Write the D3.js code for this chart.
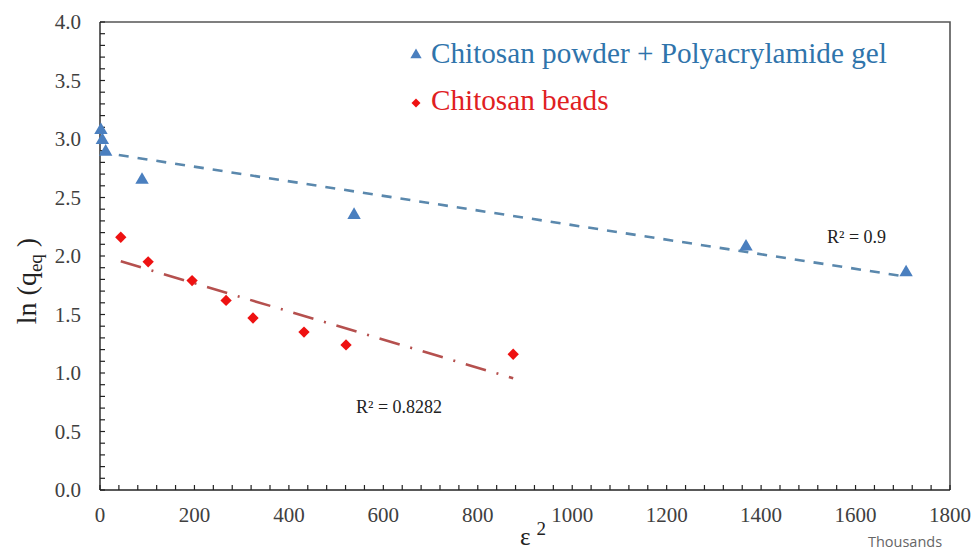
<!DOCTYPE html>
<html><head><meta charset="utf-8">
<script src="https://cdn.jsdelivr.net/npm/d3@7"></script>
<style>
html,body{margin:0;padding:0;background:#fff;}
svg{display:block;}
</style>
</head><body>
<script>
// ---- data (x in thousands) ----
const powderX = [2, 5, 12, 89, 538, 1368, 1707];
const powderY = [3.075, 2.99, 2.89, 2.65, 2.35, 2.08, 1.86];
const beadsX = [44, 102, 195, 267, 324, 432, 521, 875];
const beadsY = [2.16, 1.95, 1.79, 1.62, 1.47, 1.35, 1.24, 1.16];
const seriesNames = ["Chitosan powder + Polyacrylamide gel", "Chitosan beads"];
const r2Labels = ["R\u00B2 = 0.9", "R\u00B2 = 0.8282"];
const xTicks = [0, 200, 400, 600, 800, 1000, 1200, 1400, 1600, 1800];
const yTicks = [0.0, 0.5, 1.0, 1.5, 2.0, 2.5, 3.0, 3.5, 4.0];

const W = 974, H = 553;
const m = {left: 100, right: 24, top: 22, bottom: 63};
const svg = d3.select("body").append("svg").attr("width", W).attr("height", H);

const x = d3.scaleLinear().domain([0, 1800]).range([m.left, W - m.right]);
const y = d3.scaleLinear().domain([0, 4]).range([H - m.bottom, m.top]);

// frame top/right
svg.append("path")
  .attr("d", `M${x(0)},${y(4)}H${x(1800)}V${y(0)}`)
  .attr("fill", "none").attr("stroke", "#555").attr("stroke-width", 1.6);

const serif = "Liberation Serif, Times New Roman, serif";
const yMinor = d3.range(0, 4.0001, 0.1);
const xMinor = d3.range(0, 1800.001, 40);

const gy = svg.append("g").attr("transform", `translate(${x(0)},0)`);
gy.append("line").attr("y1", y(0)).attr("y2", y(4)).attr("stroke", "#222").attr("stroke-width", 1.4);
gy.selectAll("line.mt").data(yMinor).enter().append("line").attr("class","mt")
  .attr("x1", 0).attr("x2", 5).attr("y1", d => y(d)).attr("y2", d => y(d))
  .attr("stroke", "#222").attr("stroke-width", 1.2);
gy.selectAll("text").data(yTicks).enter().append("text")
  .attr("x", -19).attr("y", d => y(d)).attr("dy", "0.35em")
  .attr("text-anchor", "end").attr("font-family", serif).attr("font-size", 21)
  .attr("fill", "#404040").text(d => d3.format(".1f")(d));

const gx = svg.append("g").attr("transform", `translate(0,${y(0)})`);
gx.append("line").attr("x1", x(0)).attr("x2", x(1800)).attr("stroke", "#222").attr("stroke-width", 1.4);
gx.selectAll("line.mt").data(xMinor).enter().append("line").attr("class","mt")
  .attr("y1", 0).attr("y2", -5).attr("x1", d => x(d)).attr("x2", d => x(d))
  .attr("stroke", "#222").attr("stroke-width", 1.2);
gx.selectAll("text").data(xTicks).enter().append("text")
  .attr("x", d => x(d)).attr("y", 25).attr("dy", "0.35em")
  .attr("text-anchor", "middle").attr("font-family", serif).attr("font-size", 21)
  .attr("fill", "#404040").text(d => d);

// linear regression trend lines
function fit(xs, ys) {
  const n = xs.length, mx = d3.mean(xs), my = d3.mean(ys);
  let sxy = 0, sxx = 0;
  for (let i = 0; i < n; i++) { sxy += (xs[i]-mx)*(ys[i]-my); sxx += (xs[i]-mx)**2; }
  const b = sxy / sxx; return {b, a: my - b*mx};
}
const fP = fit(powderX, powderY), fB = fit(beadsX, beadsY);
const line = d3.line().x(d => x(d[0])).y(d => y(d[1]));
svg.append("path")
  .attr("d", line([[0, fP.a], [d3.max(powderX), fP.a + fP.b*d3.max(powderX)]]))
  .attr("fill","none").attr("stroke","#5a88ad").attr("stroke-width",2.6)
  .attr("stroke-dasharray","10,9");
svg.append("path")
  .attr("d", line([[d3.min(beadsX), fB.a + fB.b*d3.min(beadsX)], [d3.max(beadsX), fB.a + fB.b*d3.max(beadsX)]]))
  .attr("fill","none").attr("stroke","#b5504e").attr("stroke-width",2.6)
  .attr("stroke-dasharray","21,11,2,11");

// markers
const tri = d3.symbol().type(d3.symbolTriangle).size(78);
const dia = d3.symbol().type(d3.symbolSquare).size(64);
svg.selectAll("path.pw").data(powderX.map((v,i)=>[v,powderY[i]])).enter().append("path")
  .attr("class","pw").attr("d", tri)
  .attr("transform", d => `translate(${x(d[0])},${y(d[1])})`)
  .attr("fill", "#4a7fbf");
svg.selectAll("path.bd").data(beadsX.map((v,i)=>[v,beadsY[i]])).enter().append("path")
  .attr("class","bd").attr("d", dia)
  .attr("transform", d => `translate(${x(d[0])},${y(d[1])}) rotate(45)`)
  .attr("fill", "#ee1111");

// R² labels
svg.append("text").attr("x", 827).attr("y", 237).attr("dy","0.35em")
  .attr("font-family", serif).attr("font-size", 18).attr("fill","#222").text(r2Labels[0]);
svg.append("text").attr("x", 356).attr("y", 407).attr("dy","0.35em")
  .attr("font-family", serif).attr("font-size", 18).attr("fill","#222").text(r2Labels[1]);

// legend
svg.append("path").attr("d", d3.symbol().type(d3.symbolTriangle).size(55))
  .attr("transform","translate(416,55)").attr("fill","#4a7fbf");
svg.append("text").attr("x", 431).attr("y", 63).attr("font-family", serif)
  .attr("font-size", 29.2).attr("fill","#2f74ab").text(seriesNames[0]);
svg.append("path").attr("d", d3.symbol().type(d3.symbolSquare).size(40))
  .attr("transform","translate(416,103) rotate(45)").attr("fill","#ee1111");
svg.append("text").attr("x", 431).attr("y", 110).attr("font-family", serif)
  .attr("font-size", 29.2).attr("fill","#e0201f").text(seriesNames[1]);

// axis titles
const yl = svg.append("text").attr("transform","translate(36,281) rotate(-90)")
  .attr("text-anchor","middle").attr("font-family", serif).attr("font-size", 28).attr("fill","#222");
yl.append("tspan").text("ln (q");
yl.append("tspan").attr("font-size", 19).attr("dy", 6).text("eq");
yl.append("tspan").attr("dy", -6).text(" )");

const xl = svg.append("text").attr("x", 520).attr("y", 545)
  .attr("font-family", serif).attr("font-size", 25).attr("fill","#222");
xl.append("tspan").text("\u03B5");
xl.append("tspan").attr("font-size", 19).attr("dy", -10).attr("dx", 6).text("2");

svg.append("text").attr("x", 905).attr("y", 547).attr("text-anchor","middle")
  .attr("font-family","Open Sans, DejaVu Sans, sans-serif").attr("font-size", 14.5)
  .attr("fill","#666").text("Thousands");
</script>
</body></html>
